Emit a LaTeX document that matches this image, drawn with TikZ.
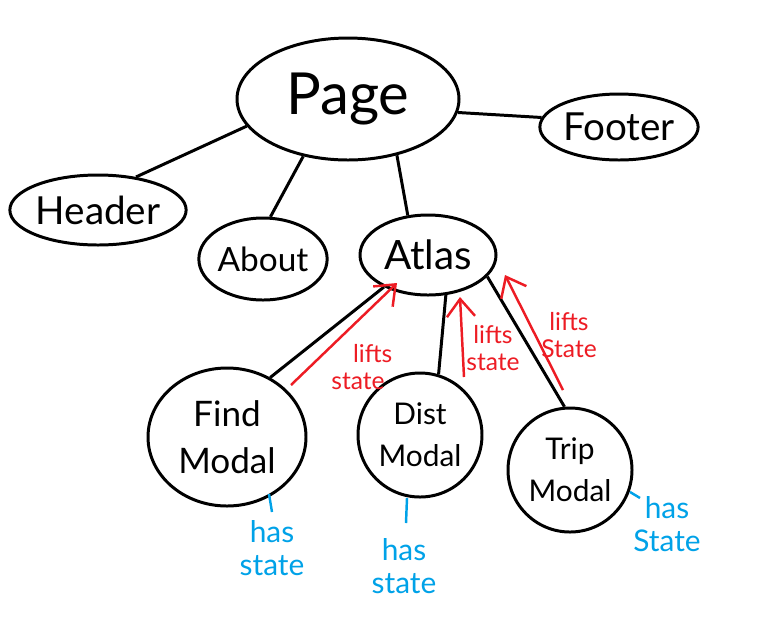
\documentclass[tikz,border=0pt]{standalone}
\usepackage{fontspec}
\setmainfont{Lato}
\usetikzlibrary{shapes.geometric,arrows.meta}
\definecolor{pred}{HTML}{ED1C24}
\definecolor{pblue}{HTML}{00A2E8}
\begin{document}
\begin{tikzpicture}[x=0.02cm,y=-0.02cm,
  bub/.style={draw=black,ellipse,line width=1.7pt,inner sep=0pt,align=center},
  link/.style={draw=black,line width=1.7pt},
  lift/.style={draw=pred,line width=1.4pt,-{Straight Barb[length=10pt,width=16pt]}},
  liftlbl/.style={text=pred,font=\fontsize{14}{15}\selectfont,align=center,inner sep=0pt},
  hasln/.style={draw=pblue,line width=1.4pt},
  haslbl/.style={text=pblue,font=\fontsize{17}{19}\selectfont,align=center,inner sep=0pt}]
\useasboundingbox (0,0) rectangle (781,630);
\fill[white] (0,0) rectangle (781,630);
% nodes
\node[bub,minimum width=222*0.02cm,minimum height=122*0.02cm,font=\fontsize{33}{33}\selectfont] (page) at (348,99) {Page};
\node[bub,minimum width=148*0.02cm,minimum height=66*0.02cm,font=\fontsize{22}{22}\selectfont] (footer) at (619,127) {Footer};
\node[bub,minimum width=146*0.02cm,minimum height=70*0.02cm,font=\fontsize{22}{22}\selectfont] (header) at (98,210) {Header};
\node[bub,minimum width=116*0.02cm,minimum height=82*0.02cm,font=\fontsize{19}{19}\selectfont] (about) at (263,259) {About};
\node[bub,minimum width=136*0.02cm,minimum height=80*0.02cm,font=\fontsize{23}{23}\selectfont] (atlas) at (428,255) {Atlas};
\node[bub,minimum width=158*0.02cm,minimum height=138*0.02cm,font=\fontsize{20}{27}\selectfont] (find) at (227,437) {Find\\Modal};
\node[bub,minimum width=124*0.02cm,minimum height=124*0.02cm,font=\fontsize{17}{24}\selectfont] (dist) at (420,435) {Dist\\Modal};
\node[bub,minimum width=124*0.02cm,minimum height=124*0.02cm,font=\fontsize{17}{24}\selectfont] (trip) at (570,470) {Trip\\Modal};
% connectors
\draw[link] (page.195) -- (header.41);
\draw[link] (page.232) -- (about.80);
\draw[link] (page.311) -- (atlas.117);
\draw[link] (page.353) -- (footer.173);
\draw[link] (atlas.216) -- (find.54);
\draw[link] (atlas.294) -- (dist.73);
\draw[link] (atlas.340) -- (trip.95);
% lifts state arrows
\coordinate (l1s) at (291,385); \coordinate (l1e) at (397,283);
\coordinate (l2s) at (464,377); \coordinate (l2e) at (460,297);
\coordinate (l3s) at (563,390); \coordinate (l3e) at (505,275);
\draw[lift] (l1s) -- (l1e);
\draw[lift] (l2s) -- (l2e);
\draw[lift] (l3s) -- (l3e);
\node[liftlbl] (t1) at (358,367) {\hspace{1.2em}lifts\\state};
\node[liftlbl] (t2) at (493,348) {lifts\\state};
\node[liftlbl] (t3) at (569,335) {lifts\\State};
% has state
\coordinate (h1s) at (269,494); \coordinate (h1e) at (272,512);
\coordinate (h2s) at (407,498); \coordinate (h2e) at (406,523);
\coordinate (h3s) at (630,492); \coordinate (h3e) at (640,498);
\draw[hasln] (h1s) -- (h1e);
\draw[hasln] (h2s) -- (h2e);
\draw[hasln] (h3s) -- (h3e);
\node[haslbl] (s1) at (272,548) {has\\state};
\node[haslbl] (s2) at (404,566) {has\\state};
\node[haslbl] (s3) at (667,524) {has\\State};
\end{tikzpicture}
\end{document}
